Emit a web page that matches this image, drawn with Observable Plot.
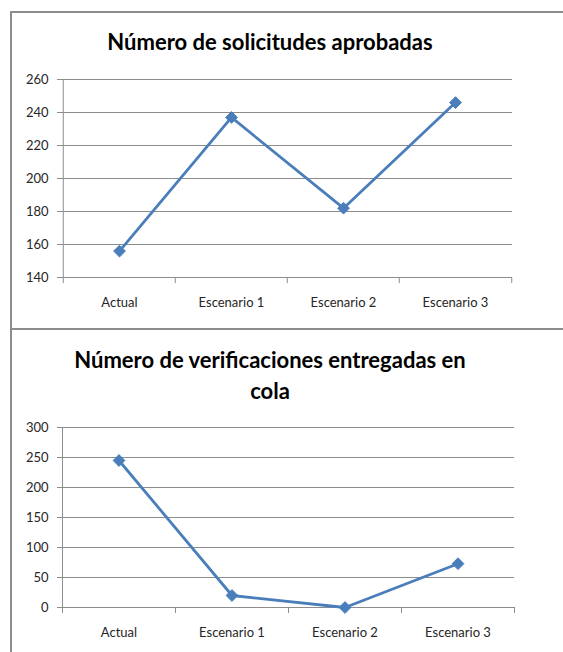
<!DOCTYPE html>
<html>
<head>
<meta charset="utf-8">
<script src="https://cdn.jsdelivr.net/npm/d3@7"></script>
<script src="https://cdn.jsdelivr.net/npm/@observablehq/plot@0.6"></script>
<style>
  html, body { margin: 0; padding: 0; background: #fff; }
  #root { position: relative; width: 563px; height: 652px; overflow: hidden; font-family: Lato, "Open Sans", sans-serif; }
  .hline { position: absolute; height: 0; border-top: 2px solid #8c8c8c; }
  .vline { position: absolute; width: 0; border-left: 2px solid #8c8c8c; }
  .title { position: absolute; left: 0; width: 540px; text-align: center; font-weight: bold; font-size: 22px; color: #000; line-height: 31px; }
  .chart { position: absolute; left: 0; }
</style>
</head>
<body>
<div id="root">
  <div class="hline" style="left:11px; top:11px; width:552px;"></div>
  <div class="vline" style="left:10px; top:11px; height:641px;"></div>
  <div class="hline" style="left:11px; top:328px; width:552px;"></div>
  <div class="title" style="top:26px;">Número de solicitudes aprobadas</div>
  <div class="chart" id="c1" style="top:60px;"></div>
  <div class="title" style="top:344px;">Número de verificaciones entregadas en<br>cola</div>
  <div class="chart" id="c2" style="top:410px;"></div>
</div>
<script>
const categories = ["Actual", "Escenario 1", "Escenario 2", "Escenario 3"];
const aprobadas = [156, 237, 182, 246];
const enCola = [245, 20, 0, 73];
const ticksAprobadas = [140, 160, 180, 200, 220, 240, 260];
const ticksCola = [0, 50, 100, 150, 200, 250, 300];

const lineColor = "#4a7ebb";
const gridColor = "#8c8c8c";
const textColor = "#262626";

function makeChart({values, ticks, height, marginTop, marginBottom, marginRight}) {
  const width = 563, marginLeft = 62;
  const data = categories.map((c, i) => ({cat: c, v: values[i]}));
  const bw = (width - marginLeft - marginRight) / categories.length;
  const yMin = ticks[0], yMax = ticks[ticks.length - 1];
  const plotH = height - marginTop - marginBottom;
  const tickData = (yMax - yMin) * 6 / plotH; // 6px below axis in data units
  // boundaries: left edge of each band plus right edge of the last band
  const bounds = categories.map((c, i) => ({cat: c, dx: -bw / 2, top: i === 0}))
    .concat([{cat: categories[categories.length - 1], dx: bw / 2, top: false}]);
  return Plot.plot({
    width, height, marginLeft, marginRight, marginTop, marginBottom,
    style: {fontFamily: "Lato, 'Open Sans', sans-serif", fontSize: "13px", color: textColor, background: "transparent"},
    x: {domain: categories, type: "band", padding: 0, label: null},
    y: {domain: [yMin, yMax], label: null},
    marks: [
      Plot.gridY(ticks, {stroke: gridColor, strokeOpacity: 1, strokeWidth: 1}),
      Plot.ruleY([yMin], {stroke: gridColor, strokeWidth: 1}),
      ...bounds.map(b => Plot.ruleX([b], {x: "cat", dx: b.dx, y1: b.top ? yMax : yMin, y2: yMin - tickData, stroke: gridColor, strokeWidth: 1})),
      Plot.axisY(ticks, {tickSize: 5, tickPadding: 9, stroke: gridColor, fontSize: 13, fill: textColor}),
      Plot.axisX({tickSize: 0, tickPadding: 20, fontSize: 13, fill: textColor}),
      Plot.line(data, {x: "cat", y: "v", stroke: lineColor, strokeWidth: 2.8}),
      Plot.dot(data, {x: "cat", y: "v", symbol: "diamond2", r: 5.3, fill: lineColor, stroke: lineColor, strokeWidth: 1})
    ]
  });
}

document.getElementById("c1").appendChild(makeChart({
  values: aprobadas, ticks: ticksAprobadas, height: 260, marginTop: 19, marginBottom: 43, marginRight: 51
}));
document.getElementById("c2").appendChild(makeChart({
  values: enCola, ticks: ticksCola, height: 240, marginTop: 17, marginBottom: 43, marginRight: 49
}));
</script>
</body>
</html>
